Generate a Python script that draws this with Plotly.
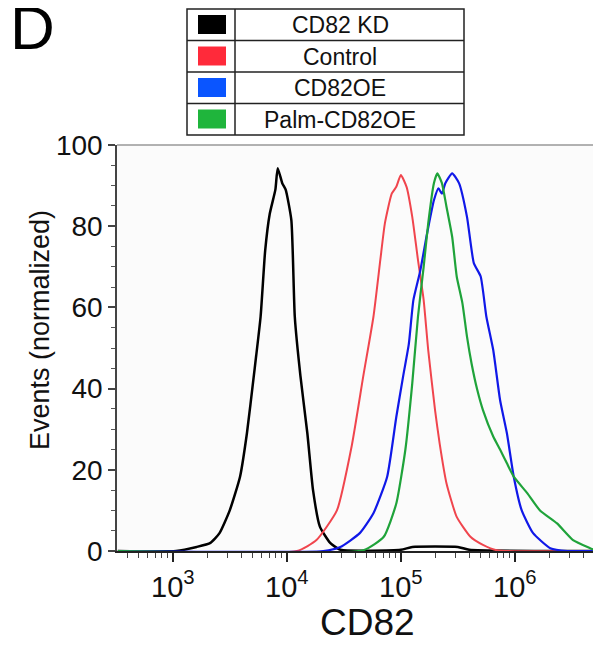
import plotly.graph_objects as go

# CD82 fluorescence (x) vs events normalized to mode (y)
kd_x = [330, 1070, 1620, 2140, 2570, 3160, 3890, 4470, 5130, 5890, 6460, 7080, 7940, 8320,
        9120, 9770, 10960, 11750, 13180, 15140, 16980, 19500, 23990, 29510, 100000, 125900,
        316000, 398000, 5250000]
kd_y = [0, 0, 1, 2, 4.4, 10, 18.3, 29, 43, 57.7, 74, 83, 89, 94.3,
        90.6, 89, 81.5, 57.7, 43, 29, 15, 6, 2, 0.3, 0.3, 1,
        1, 0.3, 0]

ctrl_x = [330, 12300, 18200, 27500, 37150, 46800, 57500, 66070, 72440, 83180, 91200, 100000,
          112200, 125900, 141300, 158500, 173800, 199500, 218800, 251200, 309000, 407400,
          524800, 691800, 5250000]
ctrl_y = [0, 0, 2.7, 10, 26, 43, 57.7, 71.7, 80.7, 88, 89.7, 92.6,
          89.7, 82.3, 71.7, 61.8, 49.5, 34.7, 26.5, 16.7, 8.4, 3.5,
          1.5, 0.2, 0]

oe_x = [330, 20900, 29500, 43650, 57500, 75860, 91200, 104700, 117500, 128800, 147900, 169800,
        195000, 213800, 229100, 245500, 281800, 323600, 380200, 436500, 501200, 562300,
        645700, 741300, 851100, 977200, 1148000, 1445000, 2042000, 2884000, 5250000]
oe_y = [0, 0, 1, 4.4, 9.3, 18.3, 33, 43, 51, 61.8, 69, 78.2,
        86.4, 89.3, 88, 90.6, 93, 90.6, 82.3, 70.9, 67.6, 57.7,
        49.5, 37.2, 29, 18.3, 10, 4.4, 0.7, 0, 0]

palm_x = [330, 46800, 70800, 91200, 109600, 125900, 141300, 158500, 173800, 195000, 208900,
          229100, 251200, 281800, 309000, 346700, 380200, 416900, 467700, 524800, 645700,
          741300, 851100, 977200, 1288000, 1660000, 2344000, 3236000, 4571000, 5250000]
palm_y = [0, 0.2, 3.5, 11.7, 25, 41.3, 57.7, 70, 80.7, 90.6, 93,
          90.6, 84.8, 77.4, 67.6, 61, 52.8, 46.2, 39.7, 34.7, 28.2,
          25, 21.6, 18.3, 14.2, 10, 6.8, 2.7, 0.7, 0]

series_names = ["CD82 KD", "Control", "CD82OE", "Palm-CD82OE"]
line_colors = ["#000000", "#f0454d", "#1018e8", "#1fa33a"]
swatch_colors = ["#000000", "#ff2a3a", "#0a55ff", "#1fb53c"]

x_tickvals = [1e3, 1e4, 1e5, 1e6]
x_ticktext = ["10<sup>3</sup>", "10<sup>4</sup>", "10<sup>5</sup>", "10<sup>6</sup>"]
y_tickvals = [0, 20, 40, 60, 80, 100]

FONT = "Arial, Liberation Sans, sans-serif"

# page size and the body margin the browser puts round the plot div
PAGE_W, PAGE_H, BODY = 601, 648, 8
# plot area in page pixels
L, R, T, B = 117, 597, 145, 551


def px(x):
    return (x - L) / (R - L)


def py(y):
    return (B - y) / (B - T)


fig = go.Figure()
for xs, ys, name, col, w in zip([kd_x, ctrl_x, oe_x, palm_x], [kd_y, ctrl_y, oe_y, palm_y],
                                series_names, line_colors, [2.5, 2, 2.2, 2.2]):
    fig.add_trace(go.Scatter(
        x=xs, y=ys, mode="lines", name=name,
        line=dict(color=col, width=w, shape="spline", smoothing=0.5),
    ))

shapes = []
annotations = []

# plot frame (top / right in lighter grey)
shapes.append(dict(type="line", xref="paper", yref="paper", x0=0, x1=1, y0=1, y1=1,
                   line=dict(color="#999999", width=1.5)))
shapes.append(dict(type="line", xref="paper", yref="paper", x0=1, x1=1, y0=0, y1=1,
                   line=dict(color="#999999", width=1.5)))

# table-style legend above the plot
lx0, lx1, ldiv = 187, 464, 235
rows = [9, 40.5, 72, 103.5, 135]
shapes.append(dict(type="rect", xref="paper", yref="paper",
                   x0=px(lx0), x1=px(lx1), y0=py(rows[-1]), y1=py(rows[0]),
                   line=dict(color="#222222", width=1.5)))
shapes.append(dict(type="line", xref="paper", yref="paper",
                   x0=px(ldiv), x1=px(ldiv), y0=py(rows[-1]), y1=py(rows[0]),
                   line=dict(color="#222222", width=1.5)))
for r in rows[1:-1]:
    shapes.append(dict(type="line", xref="paper", yref="paper",
                       x0=px(lx0), x1=px(lx1), y0=py(r), y1=py(r),
                       line=dict(color="#222222", width=1.5)))
for i, (name, col) in enumerate(zip(series_names, swatch_colors)):
    top = rows[i]
    shapes.append(dict(type="rect", xref="paper", yref="paper",
                       x0=px(198), x1=px(226), y0=py(top + 25), y1=py(top + 6),
                       fillcolor=col, line=dict(width=0)))
    annotations.append(dict(text=name, xref="paper", yref="paper",
                            x=px(340), y=py(top + 16), showarrow=False,
                            xanchor="center", yanchor="middle",
                            font=dict(size=23, color="#111111", family=FONT)))

annotations.append(dict(text="D", xref="paper", yref="paper", x=px(32), y=py(27),
                        showarrow=False, xanchor="center", yanchor="middle",
                        font=dict(size=62, color="black", family=FONT)))
annotations.append(dict(text="Events (normalized)", xref="paper", yref="paper",
                        x=px(40), y=py(330), textangle=-90, showarrow=False,
                        xanchor="center", yanchor="middle",
                        font=dict(size=27, color="#111111", family=FONT)))
annotations.append(dict(text="CD82", xref="paper", yref="paper", x=px(367), y=py(622),
                        showarrow=False, xanchor="center", yanchor="middle",
                        font=dict(size=37, color="#111111", family=FONT)))

fig.update_layout(
    width=PAGE_W - BODY, height=PAGE_H - BODY,
    margin=dict(l=L - BODY, r=PAGE_W - R, t=T - BODY, b=PAGE_H - B),
    paper_bgcolor="white",
    plot_bgcolor="#fbfbfb",
    showlegend=False,
    font=dict(family=FONT, color="#111111"),
    shapes=shapes,
    annotations=annotations,
    xaxis=dict(
        type="log", range=[2.511, 6.72],
        tickvals=x_tickvals, ticktext=x_ticktext,
        ticks="outside", ticklen=9, tickwidth=1.5, tickcolor="#222222",
        minor=dict(ticks="outside", ticklen=5, tickwidth=1, tickcolor="#444444", dtick="D1"),
        showgrid=False, zeroline=False,
        showline=True, linecolor="#222222", linewidth=1.5,
        tickfont=dict(size=29, family=FONT, color="#111111"),
    ),
    yaxis=dict(
        range=[0, 100],
        tickvals=y_tickvals,
        ticks="outside", ticklen=7, tickwidth=1.5, tickcolor="#444444",
        minor=dict(ticks="outside", ticklen=4, tickwidth=1, tickcolor="#555555", dtick=5),
        showgrid=False, zeroline=False,
        showline=True, linecolor="#444444", linewidth=1.5,
        tickfont=dict(size=28, family=FONT, color="#111111"),
    ),
)

fig.write_html("out.html")
